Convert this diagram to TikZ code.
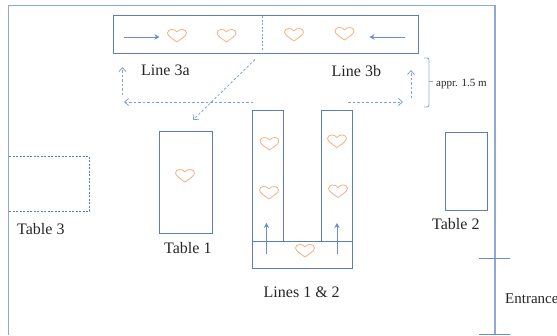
\documentclass[tikz,border=0pt]{standalone}
\usepackage{fontspec}
\setmainfont{Liberation Serif}
\usetikzlibrary{arrows.meta}
\definecolor{boxblue}{HTML}{5B7DB8}
\definecolor{wallblue}{HTML}{8FA9D6}
\definecolor{dashblue}{HTML}{7F9FDC}
\definecolor{arrowblue}{HTML}{4472C4}
\definecolor{heartorange}{HTML}{F4B183}
\tikzset{x=1pt,y=-1pt,
  wall/.style={draw=wallblue,line width=1.1pt},
  box/.style={draw=boxblue,line width=1pt},
  dashbox/.style={draw=boxblue,line width=0.7pt,dash pattern=on 2pt off 1.5pt},
  flow/.style={draw=arrowblue!80,line width=0.8pt,-{Stealth[length=5pt,width=5.5pt]}},
  walk/.style={draw=dashblue,line width=0.8pt,dash pattern=on 2.5pt off 2pt,-{Straight Barb[length=4pt,width=7pt]}},
  lbl/.style={inner sep=0pt,text=black!85,font=\fontsize{16}{18}\selectfont},
  small/.style={inner sep=0pt,text=black!85,font=\fontsize{11}{13}\selectfont},
  heart/.pic={\draw[heartorange,line width=0.8pt,line join=round]
    (0,6.5) .. controls (-4,3.5) and (-9.5,0.5) .. (-9.5,-2.5)
    .. controls (-9.5,-6.5) and (-2.5,-7.5) .. (0,-3.5)
    .. controls (2.5,-7.5) and (9.5,-6.5) .. (9.5,-2.5)
    .. controls (9.5,0.5) and (4,3.5) .. (0,6.5) -- cycle;}}
\begin{document}
\begin{tikzpicture}
\useasboundingbox (0,0) rectangle (557,335);
% walls
\coordinate (wbl) at (8.5,335); \coordinate (wtl) at (8.5,5.5); \coordinate (wtr) at (495,5.5); \coordinate (wbr) at (495,335);
\draw[wall] (wbl) -- (wtl) -- (wtr) -- (wbr);
\coordinate (e1a) at (479,258.5); \coordinate (e1b) at (510,258.5);
\coordinate (e2a) at (479,334); \coordinate (e2b) at (510,334);
\draw[draw=arrowblue!80,line width=0.7pt] (e1a) -- (e1b);
\draw[draw=arrowblue!80,line width=1pt] (e2a) -- (e2b);
% line 3
\draw[box] (113,15) rectangle (418.5,53);
\coordinate (m1) at (262,16); \coordinate (m2) at (262,50);
\draw[draw=dashblue,line width=0.8pt,dash pattern=on 2pt off 1.5pt] (m1) -- (m2);
\coordinate (fa) at (124,37); \coordinate (fb) at (159.5,37);
\draw[flow] (fa) -- (fb);
\coordinate (gb) at (405,37); \coordinate (ga) at (369.5,37);
\draw[flow] (gb) -- (ga);
\pic at (177,35.5) {heart};
\pic at (226.5,35.5) {heart};
\pic at (294,34.5) {heart};
\pic at (344.5,33.5) {heart};
% tables
\draw[box] (159,131.5) rectangle (212.5,233.5);
\pic at (185,175.5) {heart};
\draw[box] (445.5,132.5) rectangle (487.5,210);
\draw[dashbox] (9,156.5) -- (89.5,156.5) -- (89.5,211) -- (9,211);
% lines 1 & 2
\draw[box] (252.5,110) rectangle (283,241);
\draw[box] (321,110) rectangle (352,241);
\draw[box,fill=white] (252,241) rectangle (352,268.5);
\pic at (269.5,143.5) {heart};
\pic at (269,192.5) {heart};
\pic at (337,141) {heart};
\pic at (338,191) {heart};
\pic at (305,250.5) {heart};
\coordinate (ua) at (266.5,254); \coordinate (ub) at (266.5,223);
\coordinate (va) at (337,254); \coordinate (vb) at (337,223);
\draw[flow] (ua) -- (ub);
\draw[flow] (va) -- (vb);
% walking routes
\coordinate (r1) at (253,102); \coordinate (r2) at (124,102);
\coordinate (r3) at (122.5,95); \coordinate (r4) at (122.5,67);
\coordinate (r5) at (255,59.5); \coordinate (r6) at (193,120);
\coordinate (r7) at (348,102); \coordinate (r8) at (403,102);
\coordinate (r9) at (411,98); \coordinate (r10) at (411,70);
\draw[walk] (r1) -- (r2);
\draw[walk] (r3) -- (r4);
\draw[walk] (r5) -- (r6);
\draw[walk] (r7) -- (r8);
\draw[walk] (r9) -- (r10);
% bracket
\coordinate (b1) at (424,58); \coordinate (b2) at (429,58); \coordinate (b3) at (429,107);
\coordinate (b4) at (424,107); \coordinate (b5) at (429,81.5); \coordinate (b6) at (432.5,81.5);
\draw[wall,line width=0.9pt,rounded corners=2pt] (b1) -- (b2) -- (b3) -- (b4);
\draw[wall,line width=0.9pt] (b5) -- (b6);
% labels
\node[lbl,anchor=west] (l3a) at (141,70) {Line 3a};
\node[lbl,anchor=west] (l3b) at (331.5,71) {Line 3b};
\node[small,anchor=west] (appr) at (436,84.5) {appr. 1.5 m};
\node[lbl,anchor=west] (t3) at (17,229.5) {Table 3};
\node[lbl,anchor=west] (t1) at (164,248) {Table 1};
\node[lbl,anchor=west] (t2) at (432,224.5) {Table 2};
\node[lbl,anchor=west] (l12) at (263.5,292.5) {Lines 1 \& 2};
\node[lbl,anchor=west,font=\fontsize{15}{17}\selectfont] (ent) at (505,299) {Entrance};
\end{tikzpicture}
\end{document}
